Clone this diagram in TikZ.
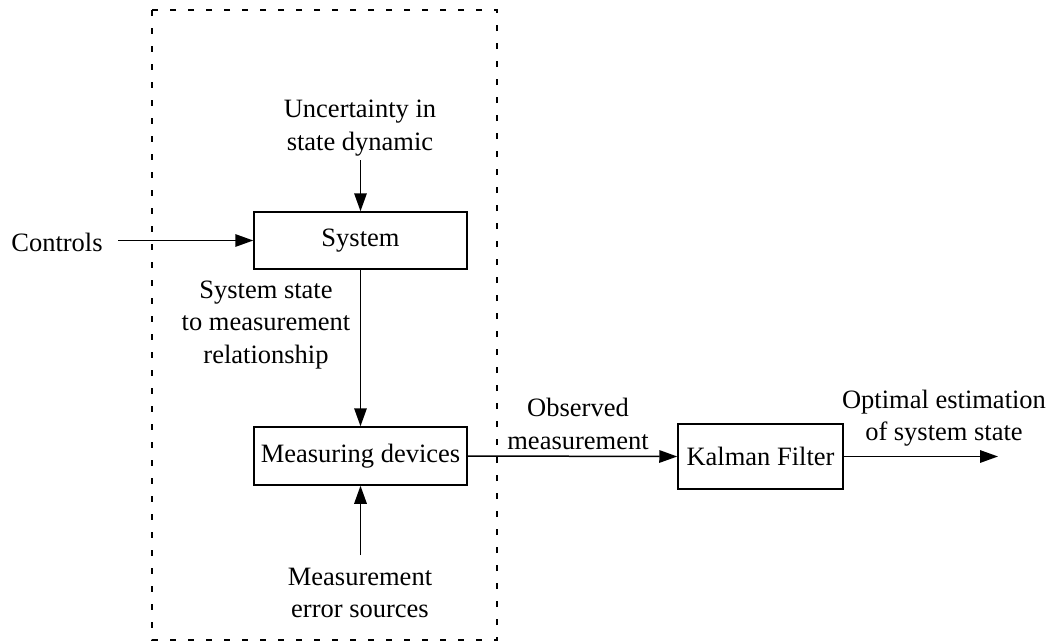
\documentclass[tikz,border=0pt]{standalone}
\usepackage{fontspec}
\setmainfont{Liberation Serif}
\usetikzlibrary{arrows.meta}
\begin{document}
\begin{tikzpicture}[x=1pt,y=-1pt,
  every node/.style={font=\fontsize{26.5}{32.5}\selectfont, inner sep=0pt},
  blk/.style={draw, line width=1.5pt, minimum width=213pt, minimum height=57pt},
  lbl/.style={align=center},
  conn/.style={line width=1.5pt, -{Triangle[length=18pt,width=12.5pt]}},
  frame/.style={line width=1.2pt, dash pattern=on 6pt off 12pt}]
\useasboundingbox (0,0) rectangle (1057,643);
\draw[frame] (152,10) rectangle (497,640);
\node[blk] (sys) at (360.5,240.5) {System};
\node[blk, minimum height=58pt] (meas) at (360.5,456) {Measuring devices};
\node[blk, minimum width=165pt, minimum height=65pt] (kf) at (760.5,456.5) {Kalman Filter};
\node[lbl] (ctrl) at (57,242) {Controls};
\node[lbl] (unc) at (360,128) {Uncertainty in\\state dynamic};
\node[lbl] (ssl) at (266,325) {System state\\to measurement\\relationship};
\node[lbl] (obs) at (578,424) {Observed\\measurement};
\node[lbl] (opt) at (944,418) {Optimal estimation\\of system state};
\node[lbl] (mes) at (360,593) {Measurement\\error sources};
\coordinate (cin) at (118,240.5);
\coordinate (uin) at (360.5,160);
\coordinate (min) at (360.5,555);
\coordinate (kout) at (998,456.5);
\draw[conn] (cin) -- (sys.west);
\draw[conn] (uin) -- (sys.north);
\draw[conn] (sys.south) -- (meas.north);
\draw[conn] (min) -- (meas.south);
\draw[conn] (meas.east) -- (kf.west);
\draw[conn] (kf.east) -- (kout);
\end{tikzpicture}
\end{document}
